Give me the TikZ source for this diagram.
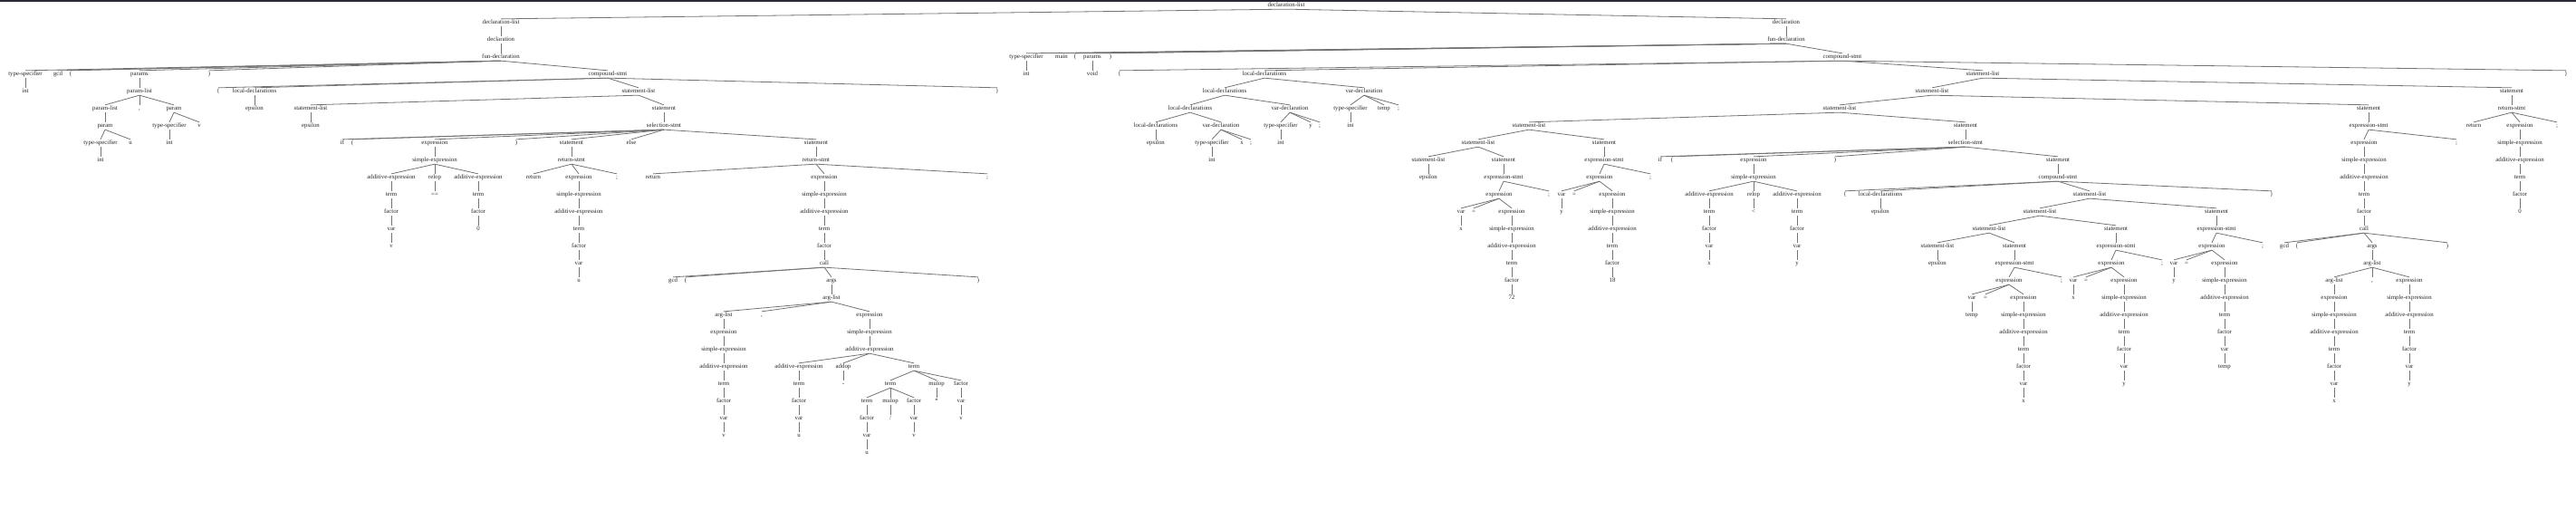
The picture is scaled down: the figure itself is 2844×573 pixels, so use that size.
\documentclass[tikz,border=0pt]{standalone}
\usepackage{fontspec}
\setmainfont{Liberation Serif}
\usetikzlibrary{positioning}
\definecolor{barcol}{RGB}{40,41,52}

\begin{document}
\begin{tikzpicture}[
x=1pt, y=-19pt,
tok/.style={inner sep=0.8pt, text height=4.8pt, text depth=1.5pt, text=black!85,
  font=\fontsize{6.8}{8}\selectfont},
edge/.style={draw=black!55, line width=0.8pt},
topbar/.style={fill=barcol}]

%% frame
\useasboundingbox (0pt,6pt) rectangle (2844pt,-567pt);
\fill[topbar] (0pt,6pt) rectangle (2844pt,4.2pt);

%% root
\node[tok] (root) at (1420,0) {declaration-list};

%% ===== first declaration: gcd =====
\node[tok] (dlA) at (553,1) {declaration-list};
\node[tok] (dA) at (553,2) {declaration};
\node[tok] (fdA) at (553,3) {fun-declaration};
\node[tok] (tsA) at (28,4) {type-specifier};
\node[tok] (gcdA) at (64,4) {gcd};
\node[tok] (lpA) at (78,4) {(};
\node[tok] (parA) at (154,4) {params};
\node[tok] (rpA) at (231,4) {)};
\node[tok] (csA) at (671,4) {compound-stmt};
\node[tok] (intA) at (28,5) {int};
\node[tok] (plA) at (154,5) {param-list};
\node[tok] (plA1) at (116,6) {param-list};
\node[tok] (cmA) at (154,6) {,};
\node[tok] (pA2) at (192,6) {param};
\node[tok] (pA1) at (116,7) {param};
\node[tok] (tsA2) at (187,7) {type-specifier};
\node[tok] (vA) at (220,7) {v};
\node[tok] (tsA1) at (111,8) {type-specifier};
\node[tok] (uA) at (144,8) {u};
\node[tok] (intA2) at (187,8) {int};
\node[tok] (intA1) at (111,9) {int};

%% body of gcd
\node[tok] (lbA) at (241,5) {\{};
\node[tok] (ldA) at (281,5) {local-declarations};
\node[tok] (slA) at (705,5) {statement-list};
\node[tok] (rbA) at (1101,5) {\}};
\node[tok] (epsA) at (281,6) {epsilon};
\node[tok] (slA1) at (343,6) {statement-list};
\node[tok] (stA) at (733,6) {statement};
\node[tok] (epsA1) at (343,7) {epsilon};
\node[tok] (selA) at (733,7) {selection-stmt};
\node[tok] (ifA) at (378,8) {if};
\node[tok] (lpA2) at (389,8) {(};
\node[tok] (exA) at (480,8) {expression};
\node[tok] (rpA2) at (570,8) {)};
\node[tok] (stA1) at (631,8) {statement};
\node[tok] (elA) at (697,8) {else};
\node[tok] (stA2) at (901,8) {statement};
\node[tok] (seA) at (480,9) {simple-expression};
\node[tok] (rsA1) at (631,9) {return-stmt};
\node[tok] (rsA2) at (901,9) {return-stmt};
\node[tok] (aeA1) at (432,10) {additive-expression};
\node[tok] (relA) at (480,10) {relop};
\node[tok] (aeA2) at (528,10) {additive-expression};
\node[tok] (retA1) at (589,10) {return};
\node[tok] (exA1) at (639,10) {expression};
\node[tok] (scA1) at (681,10) {;};
\node[tok] (retA2) at (721,10) {return};
\node[tok] (exA2) at (910,10) {expression};
\node[tok] (scA2) at (1090,10) {;};
\node[tok] (tmA1) at (432,11) {term};
\node[tok] (eqA) at (480,11) {==};
\node[tok] (tmA2) at (528,11) {term};
\node[tok] (seA1) at (639,11) {simple-expression};
\node[tok] (seA2) at (910,11) {simple-expression};
\node[tok] (fcA1) at (432,12) {factor};
\node[tok] (fcA2) at (528,12) {factor};
\node[tok] (aeA3) at (639,12) {additive-expression};
\node[tok] (aeA4) at (910,12) {additive-expression};
\node[tok] (vrA1) at (432,13) {var};
\node[tok] (zA) at (528,13) {0};
\node[tok] (tmA3) at (639,13) {term};
\node[tok] (tmA4) at (910,13) {term};
\node[tok] (vA1) at (432,14) {v};
\node[tok] (fcA3) at (639,14) {factor};
\node[tok] (fcA4) at (910,14) {factor};
\node[tok] (vrA3) at (639,15) {var};
\node[tok] (callA) at (910,15) {call};
\node[tok] (uA1) at (639,16) {u};
\node[tok] (gcdA2) at (743,16) {gcd};
\node[tok] (lpA3) at (757,16) {(};
\node[tok] (argsA) at (918,16) {args};
\node[tok] (rpA3) at (1080,16) {)};
\node[tok] (alA) at (918,17) {arg-list};
\node[tok] (alA1) at (799,18) {arg-list};
\node[tok] (cmA2) at (841,18) {,};
\node[tok] (exA3) at (960,18) {expression};
\node[tok] (exA4) at (799,19) {expression};
\node[tok] (seA3) at (960,19) {simple-expression};
\node[tok] (seA4) at (799,20) {simple-expression};
\node[tok] (aeA5) at (960,20) {additive-expression};
\node[tok] (aeA6) at (799,21) {additive-expression};
\node[tok] (aeA7) at (882,21) {additive-expression};
\node[tok] (adA) at (931,21) {addop};
\node[tok] (tmA5) at (1009,21) {term};
\node[tok] (tmA6) at (799,22) {term};
\node[tok] (tmA7) at (882,22) {term};
\node[tok] (miA) at (931,22) {-};
\node[tok] (tmA8) at (983,22) {term};
\node[tok] (muA1) at (1034,22) {mulop};
\node[tok] (fcA5) at (1061,22) {factor};
\node[tok] (fcA6) at (799,23) {factor};
\node[tok] (fcA7) at (882,23) {factor};
\node[tok] (tmA9) at (957,23) {term};
\node[tok] (muA2) at (983,23) {mulop};
\node[tok] (fcA8) at (1009,23) {factor};
\node[tok] (tmsA) at (1034,23) {*};
\node[tok] (vrA5) at (1061,23) {var};
\node[tok] (vrA6) at (799,24) {var};
\node[tok] (vrA7) at (882,24) {var};
\node[tok] (fcA9) at (957,24) {factor};
\node[tok] (dvA) at (983,24) {/};
\node[tok] (vrA8) at (1009,24) {var};
\node[tok] (vA5) at (1061,24) {v};
\node[tok] (vA6) at (799,25) {v};
\node[tok] (uA7) at (882,25) {u};
\node[tok] (vrA9) at (957,25) {var};
\node[tok] (vA8) at (1009,25) {v};
\node[tok] (uA9) at (957,26) {u};

%% ===== second declaration: main =====
\node[tok] (dB) at (1972,1) {declaration};
\node[tok] (fdB) at (1972,2) {fun-declaration};
\node[tok] (tsB) at (1133,3) {type-specifier};
\node[tok] (mainB) at (1172,3) {main};
\node[tok] (lpB) at (1187,3) {(};
\node[tok] (parB) at (1206,3) {params};
\node[tok] (rpB) at (1226,3) {)};
\node[tok] (csB) at (2034,3) {compound-stmt};
\node[tok] (intB) at (1133,4) {int};
\node[tok] (voidB) at (1206,4) {void};
\node[tok] (lbB) at (1236,4) {\{};
\node[tok] (ldB) at (1396,4) {local-declarations};
\node[tok] (slB) at (2189,4) {statement-list};
\node[tok] (rbB) at (2833,4) {\}};

%% local declarations of main
\node[tok] (ldB1) at (1352,5) {local-declarations};
\node[tok] (vdB1) at (1506,5) {var-declaration};
\node[tok] (ldB2) at (1314,6) {local-declarations};
\node[tok] (vdB2) at (1424,6) {var-declaration};
\node[tok] (tsB3) at (1491,6) {type-specifier};
\node[tok] (tempB) at (1528,6) {temp};
\node[tok] (scB3) at (1544,6) {;};
\node[tok] (ldB3) at (1276,7) {local-declarations};
\node[tok] (vdB3) at (1348,7) {var-declaration};
\node[tok] (tsB2) at (1414,7) {type-specifier};
\node[tok] (yB) at (1447,7) {y};
\node[tok] (scB2) at (1457,7) {;};
\node[tok] (intB3) at (1491,7) {int};
\node[tok] (epsB) at (1276,8) {epsilon};
\node[tok] (tsB1) at (1338,8) {type-specifier};
\node[tok] (xB) at (1371,8) {x};
\node[tok] (scB1) at (1381,8) {;};
\node[tok] (intB2) at (1414,8) {int};
\node[tok] (intB1) at (1338,9) {int};

%% statements of main
\node[tok] (slB1) at (2133,5) {statement-list};
\node[tok] (stB1) at (2773,5) {statement};
\node[tok] (slB2) at (2031,6) {statement-list};
\node[tok] (stB2) at (2615,6) {statement};
\node[tok] (rsB) at (2773,6) {return-stmt};
\node[tok] (slB3) at (1688,7) {statement-list};
\node[tok] (stB3) at (2170,7) {statement};
\node[tok] (esB2) at (2615,7) {expression-stmt};
\node[tok] (retB) at (2731,7) {return};
\node[tok] (exB9) at (2782,7) {expression};
\node[tok] (scB9) at (2823,7) {;};
\node[tok] (slB4) at (1632,8) {statement-list};
\node[tok] (stB4) at (1771,8) {statement};
\node[tok] (selB) at (2170,8) {selection-stmt};
\node[tok] (exB) at (2610,8) {expression};
\node[tok] (scB) at (2712,8) {;};
\node[tok] (seB9) at (2782,8) {simple-expression};
\node[tok] (slB5) at (1577,9) {statement-list};
\node[tok] (stB5) at (1660,9) {statement};
\node[tok] (esB4) at (1771,9) {expression-stmt};
\node[tok] (ifB) at (1833,9) {if};
\node[tok] (lpB2) at (1846,9) {(};
\node[tok] (exB1) at (1936,9) {expression};
\node[tok] (rpB2) at (2026,9) {)};
\node[tok] (stB6) at (2272,9) {statement};
\node[tok] (seB) at (2610,9) {simple-expression};
\node[tok] (aeB9) at (2782,9) {additive-expression};
\node[tok] (epsB1) at (1577,10) {epsilon};
\node[tok] (esB3) at (1660,10) {expression-stmt};
\node[tok] (exB4) at (1766,10) {expression};
\node[tok] (scB4) at (1822,10) {;};
\node[tok] (seB1) at (1936,10) {simple-expression};
\node[tok] (csB2) at (2272,10) {compound-stmt};
\node[tok] (aeB) at (2610,10) {additive-expression};
\node[tok] (tmB9) at (2782,10) {term};
\node[tok] (exB3) at (1655,11) {expression};
\node[tok] (scB5) at (1710,11) {;};
\node[tok] (vrB4) at (1724,11) {var};
\node[tok] (eqB4) at (1738,11) {=};
\node[tok] (exB5) at (1780,11) {expression};
\node[tok] (aeB1) at (1887,11) {additive-expression};
\node[tok] (relB) at (1936,11) {relop};
\node[tok] (aeB2) at (1984,11) {additive-expression};
\node[tok] (lbB2) at (2037,11) {\{};
\node[tok] (ldB4) at (2076,11) {local-declarations};
\node[tok] (slB6) at (2307,11) {statement-list};
\node[tok] (rbB2) at (2508,11) {\}};
\node[tok] (tmB) at (2610,11) {term};
\node[tok] (fcB9) at (2782,11) {factor};
\node[tok] (vrB3) at (1613,12) {var};
\node[tok] (eqB3) at (1627,12) {=};
\node[tok] (exB6) at (1669,12) {expression};
\node[tok] (yB4) at (1724,12) {y};
\node[tok] (seB5) at (1780,12) {simple-expression};
\node[tok] (tmB1) at (1887,12) {term};
\node[tok] (ltB) at (1936,12) {<};
\node[tok] (tmB2) at (1984,12) {term};
\node[tok] (epsB4) at (2076,12) {epsilon};
\node[tok] (slB7) at (2252,12) {statement-list};
\node[tok] (stB7) at (2447,12) {statement};
\node[tok] (fcB) at (2610,12) {factor};
\node[tok] (zB) at (2782,12) {0};
\node[tok] (xB3) at (1613,13) {x};
\node[tok] (seB6) at (1669,13) {simple-expression};
\node[tok] (aeB5) at (1780,13) {additive-expression};
\node[tok] (fcB1) at (1887,13) {factor};
\node[tok] (fcB2) at (1984,13) {factor};
\node[tok] (slB8) at (2196,13) {statement-list};
\node[tok] (stB8) at (2336,13) {statement};
\node[tok] (esB7) at (2447,13) {expression-stmt};
\node[tok] (callB) at (2610,13) {call};
\node[tok] (aeB6) at (1669,14) {additive-expression};
\node[tok] (tmB5) at (1780,14) {term};
\node[tok] (vrB1) at (1887,14) {var};
\node[tok] (vrB2) at (1984,14) {var};
\node[tok] (slB9) at (2139,14) {statement-list};
\node[tok] (stB9) at (2224,14) {statement};
\node[tok] (esB8) at (2336,14) {expression-stmt};
\node[tok] (exB7) at (2442,14) {expression};
\node[tok] (scB7) at (2498,14) {;};
\node[tok] (gcdB) at (2522,14) {gcd};
\node[tok] (lpB3) at (2536,14) {(};
\node[tok] (argsB) at (2619,14) {args};
\node[tok] (rpB3) at (2702,14) {)};
\node[tok] (tmB6) at (1669,15) {term};
\node[tok] (fcB5) at (1780,15) {factor};
\node[tok] (xB1) at (1887,15) {x};
\node[tok] (yB2) at (1984,15) {y};
\node[tok] (epsB9) at (2139,15) {epsilon};
\node[tok] (esB9) at (2224,15) {expression-stmt};
\node[tok] (exB8) at (2331,15) {expression};
\node[tok] (scB8) at (2387,15) {;};
\node[tok] (vrB7) at (2400,15) {var};
\node[tok] (eqB7) at (2414,15) {=};
\node[tok] (exB10) at (2456,15) {expression};
\node[tok] (alB) at (2619,15) {arg-list};
\node[tok] (fcB6) at (1669,16) {factor};
\node[tok] (nB5) at (1780,16) {18};
\node[tok] (exB11) at (2218,16) {expression};
\node[tok] (scB11) at (2276,16) {;};
\node[tok] (vrB8) at (2289,16) {var};
\node[tok] (eqB8) at (2303,16) {=};
\node[tok] (exB12) at (2345,16) {expression};
\node[tok] (yB7) at (2400,16) {y};
\node[tok] (seB10) at (2456,16) {simple-expression};
\node[tok] (alB1) at (2577,16) {arg-list};
\node[tok] (cmB) at (2619,16) {,};
\node[tok] (exB13) at (2660,16) {expression};
\node[tok] (nB6) at (1669,17) {72};
\node[tok] (vrB11) at (2177,17) {var};
\node[tok] (eqB11) at (2192,17) {=};
\node[tok] (exB14) at (2234,17) {expression};
\node[tok] (xB8) at (2289,17) {x};
\node[tok] (seB12) at (2345,17) {simple-expression};
\node[tok] (aeB10) at (2456,17) {additive-expression};
\node[tok] (exB15) at (2577,17) {expression};
\node[tok] (seB13) at (2660,17) {simple-expression};
\node[tok] (tempB1) at (2177,18) {temp};
\node[tok] (seB14) at (2234,18) {simple-expression};
\node[tok] (aeB12) at (2345,18) {additive-expression};
\node[tok] (tmB10) at (2456,18) {term};
\node[tok] (seB15) at (2577,18) {simple-expression};
\node[tok] (aeB13) at (2660,18) {additive-expression};
\node[tok] (aeB14) at (2234,19) {additive-expression};
\node[tok] (tmB12) at (2345,19) {term};
\node[tok] (fcB10) at (2456,19) {factor};
\node[tok] (aeB15) at (2577,19) {additive-expression};
\node[tok] (tmB13) at (2660,19) {term};
\node[tok] (tmB14) at (2234,20) {term};
\node[tok] (fcB12) at (2345,20) {factor};
\node[tok] (vrB10) at (2456,20) {var};
\node[tok] (tmB15) at (2577,20) {term};
\node[tok] (fcB13) at (2660,20) {factor};
\node[tok] (fcB14) at (2234,21) {factor};
\node[tok] (vrB12) at (2345,21) {var};
\node[tok] (tempB2) at (2456,21) {temp};
\node[tok] (fcB15) at (2577,21) {factor};
\node[tok] (vrB13) at (2660,21) {var};
\node[tok] (vrB14) at (2234,22) {var};
\node[tok] (yB12) at (2345,22) {y};
\node[tok] (vrB15) at (2577,22) {var};
\node[tok] (yB13) at (2660,22) {y};
\node[tok] (xB14) at (2234,23) {x};
\node[tok] (xB15) at (2577,23) {x};

%% edges of the gcd subtree
\foreach \p/\c in {root/dlA, root/dB, dlA/dA, dA/fdA,
    fdA/tsA, fdA/gcdA, fdA/lpA, fdA/parA, fdA/rpA, fdA/csA,
    tsA/intA, parA/plA, plA/plA1, plA/cmA, plA/pA2,
    plA1/pA1, pA1/tsA1, pA1/uA, tsA1/intA1, pA2/tsA2, pA2/vA, tsA2/intA2,
    csA/lbA, csA/ldA, csA/slA, csA/rbA, ldA/epsA,
    slA/slA1, slA/stA, slA1/epsA1, stA/selA,
    selA/ifA, selA/lpA2, selA/exA, selA/rpA2, selA/stA1, selA/elA, selA/stA2,
    exA/seA, seA/aeA1, seA/relA, seA/aeA2,
    aeA1/tmA1, tmA1/fcA1, fcA1/vrA1, vrA1/vA1, relA/eqA,
    aeA2/tmA2, tmA2/fcA2, fcA2/zA,
    stA1/rsA1, rsA1/retA1, rsA1/exA1, rsA1/scA1,
    exA1/seA1, seA1/aeA3, aeA3/tmA3, tmA3/fcA3, fcA3/vrA3, vrA3/uA1,
    stA2/rsA2, rsA2/retA2, rsA2/exA2, rsA2/scA2,
    exA2/seA2, seA2/aeA4, aeA4/tmA4, tmA4/fcA4, fcA4/callA,
    callA/gcdA2, callA/lpA3, callA/argsA, callA/rpA3, argsA/alA,
    alA/alA1, alA/cmA2, alA/exA3,
    alA1/exA4, exA4/seA4, seA4/aeA6, aeA6/tmA6, tmA6/fcA6, fcA6/vrA6, vrA6/vA6,
    exA3/seA3, seA3/aeA5, aeA5/aeA7, aeA5/adA, aeA5/tmA5,
    aeA7/tmA7, tmA7/fcA7, fcA7/vrA7, vrA7/uA7, adA/miA,
    tmA5/tmA8, tmA5/muA1, tmA5/fcA5,
    tmA8/tmA9, tmA8/muA2, tmA8/fcA8,
    tmA9/fcA9, fcA9/vrA9, vrA9/uA9, muA2/dvA, fcA8/vrA8, vrA8/vA8,
    muA1/tmsA, fcA5/vrA5, vrA5/vA5}
      \draw[edge] (\p.south) -- (\c.north);

%% edges of the main subtree
\foreach \p/\c in {dB/fdB,
    fdB/tsB, fdB/mainB, fdB/lpB, fdB/parB, fdB/rpB, fdB/csB,
    tsB/intB, parB/voidB,
    csB/lbB, csB/ldB, csB/slB, csB/rbB,
    ldB/ldB1, ldB/vdB1, ldB1/ldB2, ldB1/vdB2, ldB2/ldB3, ldB2/vdB3, ldB3/epsB,
    vdB3/tsB1, vdB3/xB, vdB3/scB1, tsB1/intB1,
    vdB2/tsB2, vdB2/yB, vdB2/scB2, tsB2/intB2,
    vdB1/tsB3, vdB1/tempB, vdB1/scB3, tsB3/intB3,
    slB/slB1, slB/stB1, slB1/slB2, slB1/stB2, slB2/slB3, slB2/stB3,
    slB3/slB4, slB3/stB4, slB4/slB5, slB4/stB5, slB5/epsB1,
    stB5/esB3, esB3/exB3, esB3/scB5, exB3/vrB3, exB3/eqB3, exB3/exB6, vrB3/xB3,
    exB6/seB6, seB6/aeB6, aeB6/tmB6, tmB6/fcB6, fcB6/nB6,
    stB4/esB4, esB4/exB4, esB4/scB4, exB4/vrB4, exB4/eqB4, exB4/exB5, vrB4/yB4,
    exB5/seB5, seB5/aeB5, aeB5/tmB5, tmB5/fcB5, fcB5/nB5,
    stB3/selB, selB/ifB, selB/lpB2, selB/exB1, selB/rpB2, selB/stB6,
    exB1/seB1, seB1/aeB1, seB1/relB, seB1/aeB2,
    aeB1/tmB1, tmB1/fcB1, fcB1/vrB1, vrB1/xB1, relB/ltB,
    aeB2/tmB2, tmB2/fcB2, fcB2/vrB2, vrB2/yB2,
    stB6/csB2, csB2/lbB2, csB2/ldB4, csB2/slB6, csB2/rbB2, ldB4/epsB4,
    slB6/slB7, slB6/stB7, slB7/slB8, slB7/stB8, slB8/slB9, slB8/stB9, slB9/epsB9,
    stB9/esB9, esB9/exB11, esB9/scB11, exB11/vrB11, exB11/eqB11, exB11/exB14,
    vrB11/tempB1, exB14/seB14, seB14/aeB14, aeB14/tmB14, tmB14/fcB14, fcB14/vrB14, vrB14/xB14,
    stB8/esB8, esB8/exB8, esB8/scB8, exB8/vrB8, exB8/eqB8, exB8/exB12, vrB8/xB8,
    exB12/seB12, seB12/aeB12, aeB12/tmB12, tmB12/fcB12, fcB12/vrB12, vrB12/yB12,
    stB7/esB7, esB7/exB7, esB7/scB7, exB7/vrB7, exB7/eqB7, exB7/exB10, vrB7/yB7,
    exB10/seB10, seB10/aeB10, aeB10/tmB10, tmB10/fcB10, fcB10/vrB10, vrB10/tempB2,
    stB2/esB2, esB2/exB, esB2/scB, exB/seB, seB/aeB, aeB/tmB, tmB/fcB, fcB/callB,
    callB/gcdB, callB/lpB3, callB/argsB, callB/rpB3, argsB/alB,
    alB/alB1, alB/cmB, alB/exB13,
    alB1/exB15, exB15/seB15, seB15/aeB15, aeB15/tmB15, tmB15/fcB15, fcB15/vrB15, vrB15/xB15,
    exB13/seB13, seB13/aeB13, aeB13/tmB13, tmB13/fcB13, fcB13/vrB13, vrB13/yB13,
    stB1/rsB, rsB/retB, rsB/exB9, rsB/scB9,
    exB9/seB9, seB9/aeB9, aeB9/tmB9, tmB9/fcB9, fcB9/zB}
      \draw[edge] (\p.south) -- (\c.north);

\end{tikzpicture}
\end{document}
